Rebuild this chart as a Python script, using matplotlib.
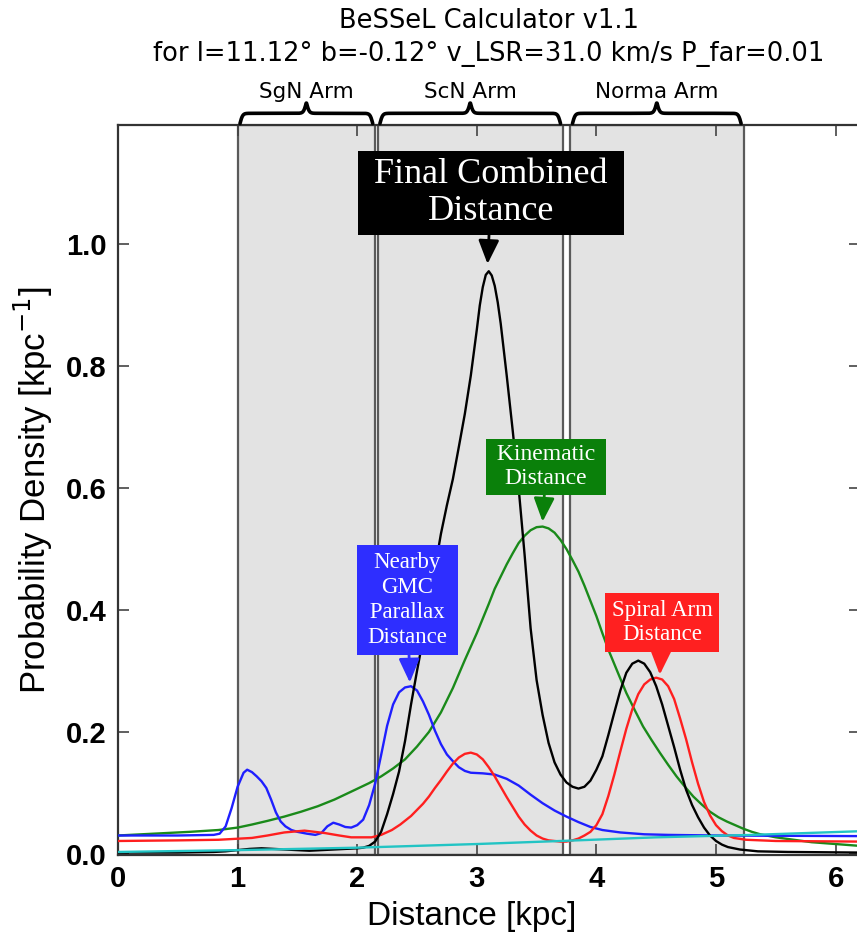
import matplotlib
matplotlib.use("Agg")
import matplotlib.pyplot as plt
import numpy as np

# ---------------- data ----------------
black_d = [0.0, 0.5, 0.8, 0.9, 1.0, 1.1, 1.2, 1.3, 1.4, 1.5, 1.6, 1.7, 1.8, 1.9, 2.0, 2.05,
           2.1, 2.15, 2.2, 2.25, 2.3, 2.35, 2.4, 2.45, 2.5, 2.55, 2.6, 2.65, 2.7, 2.75, 2.8,
           2.85, 2.9, 2.95, 3.0, 3.025, 3.05, 3.075, 3.1, 3.125, 3.15, 3.175, 3.2, 3.25, 3.3,
           3.35, 3.4, 3.45, 3.5, 3.55, 3.6, 3.65, 3.7, 3.75, 3.8, 3.85, 3.9, 3.95, 4.0, 4.05,
           4.1, 4.15, 4.2, 4.25, 4.3, 4.35, 4.4, 4.45, 4.5, 4.55, 4.6, 4.65, 4.7, 4.75, 4.8,
           4.85, 4.9, 4.95, 5.0, 5.05, 5.1, 5.2, 5.35, 5.6, 6.2]
black_v = [0.002, 0.002, 0.003, 0.004, 0.006, 0.008, 0.009, 0.008, 0.007, 0.006, 0.005, 0.006,
           0.007, 0.008, 0.009, 0.010, 0.013, 0.020, 0.036, 0.065, 0.098, 0.135, 0.185, 0.245,
           0.300, 0.352, 0.410, 0.468, 0.525, 0.572, 0.615, 0.668, 0.722, 0.785, 0.860, 0.900,
           0.930, 0.950, 0.956, 0.949, 0.932, 0.905, 0.870, 0.785, 0.695, 0.600, 0.490, 0.370,
           0.285, 0.228, 0.182, 0.150, 0.130, 0.117, 0.110, 0.107, 0.110, 0.120, 0.138, 0.160,
           0.195, 0.232, 0.268, 0.297, 0.312, 0.317, 0.312, 0.298, 0.275, 0.245, 0.210, 0.175,
           0.138, 0.105, 0.080, 0.060, 0.043, 0.030, 0.021, 0.015, 0.011, 0.007, 0.004, 0.003,
           0.002]

blue_d = [0.0, 0.5, 0.8, 0.85, 0.9, 0.95, 1.0, 1.05, 1.08, 1.12, 1.16, 1.2, 1.24, 1.28, 1.32,
          1.36, 1.4, 1.45, 1.5, 1.58, 1.65, 1.7, 1.75, 1.8, 1.85, 1.9, 1.95, 2.0, 2.05, 2.1,
          2.15, 2.2, 2.25, 2.3, 2.35, 2.4, 2.45, 2.5, 2.55, 2.6, 2.65, 2.7, 2.75, 2.8, 2.85,
          2.9, 2.95, 3.05, 3.15, 3.25, 3.35, 3.45, 3.55, 3.65, 3.75, 3.85, 3.95, 4.05, 4.2,
          4.4, 4.6, 5.0, 6.2]
blue_v = [0.030, 0.030, 0.031, 0.033, 0.045, 0.075, 0.110, 0.133, 0.138, 0.134, 0.127, 0.119,
          0.108, 0.089, 0.068, 0.053, 0.045, 0.039, 0.036, 0.033, 0.031, 0.034, 0.045, 0.051,
          0.048, 0.044, 0.043, 0.047, 0.056, 0.080, 0.115, 0.162, 0.210, 0.245, 0.265, 0.273,
          0.275, 0.268, 0.250, 0.228, 0.202, 0.180, 0.163, 0.152, 0.142, 0.136, 0.133, 0.132,
          0.130, 0.123, 0.112, 0.097, 0.083, 0.071, 0.061, 0.052, 0.044, 0.039, 0.035, 0.032,
          0.031, 0.030, 0.029]

red_d = [0.0, 0.5, 0.84, 1.12, 1.25, 1.39, 1.56, 1.73, 1.85, 1.95, 2.12, 2.2, 2.29, 2.36, 2.45,
         2.5, 2.55, 2.6, 2.65, 2.7, 2.75, 2.8, 2.85, 2.9, 2.95, 3.0, 3.05, 3.1, 3.15, 3.2, 3.25,
         3.3, 3.35, 3.4, 3.45, 3.5, 3.55, 3.6, 3.7, 3.75, 3.8, 3.85, 3.9, 3.95, 4.0, 4.05, 4.1,
         4.15, 4.2, 4.25, 4.3, 4.35, 4.4, 4.45, 4.5, 4.55, 4.6, 4.65, 4.7, 4.75, 4.8, 4.85,
         4.9, 4.95, 5.0, 5.05, 5.1, 5.15, 5.25, 5.5, 6.2]
red_v = [0.021, 0.022, 0.023, 0.026, 0.030, 0.035, 0.038, 0.034, 0.030, 0.027, 0.027, 0.031,
         0.039, 0.048, 0.062, 0.072, 0.082, 0.094, 0.108, 0.121, 0.135, 0.148, 0.158, 0.164,
         0.166, 0.163, 0.155, 0.142, 0.127, 0.110, 0.093, 0.077, 0.061, 0.048, 0.038, 0.030,
         0.025, 0.022, 0.020, 0.020, 0.022, 0.025, 0.030, 0.036, 0.047, 0.065, 0.095, 0.130,
         0.168, 0.205, 0.237, 0.262, 0.278, 0.286, 0.289, 0.286, 0.275, 0.254, 0.222, 0.188,
         0.150, 0.115, 0.085, 0.063, 0.047, 0.037, 0.030, 0.026, 0.023, 0.021, 0.020]

green_d = [0.0, 0.3, 0.6, 0.84, 1.0, 1.12, 1.25, 1.39, 1.53, 1.67, 1.81, 1.95, 2.1, 2.2, 2.3,
           2.4, 2.5, 2.6, 2.7, 2.8, 2.9, 3.0, 3.1, 3.15, 3.2, 3.25, 3.3, 3.35, 3.4, 3.45, 3.5,
           3.55, 3.6, 3.65, 3.7, 3.75, 3.8, 3.85, 3.9, 3.95, 4.0, 4.05, 4.1, 4.18, 4.25, 4.32,
           4.39, 4.46, 4.53, 4.6, 4.67, 4.74, 4.81, 4.88, 4.95, 5.02, 5.09, 5.16, 5.23, 5.3,
           5.37, 5.5, 5.65, 5.8, 6.0, 6.2]
green_v = [0.030, 0.033, 0.036, 0.039, 0.043, 0.048, 0.054, 0.061, 0.069, 0.078, 0.089, 0.102,
           0.116, 0.127, 0.140, 0.155, 0.176, 0.200, 0.232, 0.272, 0.318, 0.362, 0.410, 0.435,
           0.455, 0.475, 0.493, 0.510, 0.522, 0.531, 0.536, 0.537, 0.534, 0.527, 0.515, 0.500,
           0.482, 0.463, 0.440, 0.415, 0.390, 0.362, 0.335, 0.297, 0.264, 0.236, 0.209, 0.187,
           0.166, 0.146, 0.127, 0.110, 0.094, 0.081, 0.069, 0.060, 0.053, 0.047, 0.041, 0.036,
           0.032, 0.027, 0.023, 0.019, 0.016, 0.013]

cyan_d = [0.0, 1.0, 2.0, 2.5, 3.0, 3.7, 4.5, 5.3, 6.2]
cyan_v = [0.003, 0.006, 0.010, 0.013, 0.016, 0.021, 0.027, 0.031, 0.037]

arm_names = ["SgN Arm", "ScN Arm", "Norma Arm"]
arm_starts = [1.0, 2.17, 3.78]
arm_ends = [2.15, 3.72, 5.23]

x_ticks = [0, 1, 2, 3, 4, 5, 6]
y_ticks = [0.0, 0.2, 0.4, 0.6, 0.8, 1.0]

title_text = "BeSSeL Calculator v1.1\nfor l=11.12° b=-0.12° v_LSR=31.0 km/s P_far=0.01"

# ---------------- figure ----------------
plt.rcParams["font.family"] = ["Liberation Sans", "DejaVu Sans"]
fig = plt.figure(figsize=(8.57, 9.5), dpi=100)
ax = fig.add_axes([118 / 857, 95 / 950, 742 / 857, 730 / 950])

for s, e in zip(arm_starts, arm_ends):
    ax.axvspan(s, e, facecolor="#e3e3e3", edgecolor="#5a5a5a", linewidth=1.6, zorder=0)

lw = 1.7
ax.plot(green_d, green_v, color="#1a8a1a", lw=lw, zorder=3)
ax.plot(blue_d, blue_v, color="#1f1fff", lw=lw, zorder=3)
ax.plot(red_d, red_v, color="#ff1f1f", lw=lw, zorder=3)
ax.plot(black_d, black_v, color="black", lw=lw, zorder=4)
ax.plot(cyan_d, cyan_v, color="#22c4c4", lw=lw, zorder=4)

ax.set_xlim(0, 6.204)
ax.set_ylim(-0.002, 1.196)
ax.set_xticks(x_ticks)
ax.set_yticks(y_ticks)
ax.set_xticklabels([str(t) for t in x_ticks], fontweight="bold", fontsize=21)
ax.set_yticklabels([f"{t:.1f}" for t in y_ticks], fontweight="bold", fontsize=21)
ax.tick_params(direction="in", length=8, width=1.2, color="#444444",
               top=True, right=True, pad=8)
ax.tick_params(axis="x", pad=7)
for sp in ax.spines.values():
    sp.set_color("#333333")
    sp.set_linewidth(1.6)

ax.set_xlabel("Distance [kpc]", fontsize=24, labelpad=6)
ax.xaxis.set_label_coords((472 - 118) / 742, -0.063)
ax.set_ylabel("Probability Density [kpc$^{-1}$]", fontsize=25, labelpad=8)
ax.set_title(title_text, fontsize=18.5, family=["DejaVu Sans"], pad=46, linespacing=1.35)

# braces above arms
def brace(x0, x1, ybase, height, beta=90.0):
    xs = np.linspace(x0, x1, 400)
    half = xs[:200]
    yh = 1 / (1 + np.exp(-beta * (half - half[0]))) + 1 / (1 + np.exp(-beta * (half - half[-1])))
    ys = np.concatenate([yh, yh[::-1]])
    ys = ybase + (ys - 0.5) * height
    ax.plot(xs, ys, color="black", lw=2.6, transform=ax.get_xaxis_transform(),
            clip_on=False, zorder=6, solid_capstyle="round")

for name, s, e in zip(arm_names, arm_starts, arm_ends):
    brace(s + 0.02, e - 0.02, 1.002, 0.028)
    ax.text((s + e) / 2, 1.045, name, transform=ax.get_xaxis_transform(), ha="center",
            va="center", fontsize=15.5, family=["DejaVu Sans"])

serif = ["Liberation Serif", "DejaVu Serif"]

def label(text, xy, xytext, fc, size, pad, spacing):
    ax.annotate(text, xy=xy, xytext=xytext, ha="center", va="center", color="white",
                fontsize=size, family=serif, linespacing=spacing, zorder=10,
                bbox=dict(boxstyle=f"square,pad={pad}", fc=fc, ec="none"),
                arrowprops=dict(arrowstyle="-|>,head_length=0.8,head_width=0.35", color=fc,
                                lw=2, shrinkA=0, shrinkB=0, mutation_scale=18))

label(" Final Combined \nDistance", (3.09, 0.968), (3.12, 1.085), "black", 26, 0.2, 1.15)
label(" Kinematic \nDistance", (3.55, 0.545), (3.58, 0.635), "#0a800a", 17, 0.22, 1.2)
label("Nearby\nGMC\n Parallax \nDistance", (2.44, 0.281), (2.42, 0.417), "#2e2eff", 16.5, 0.3, 1.25)
label("Spiral Arm\nDistance", (4.53, 0.294), (4.55, 0.379), "#ff2020", 16.5, 0.3, 1.2)

fig.savefig("out.png", dpi=100)
